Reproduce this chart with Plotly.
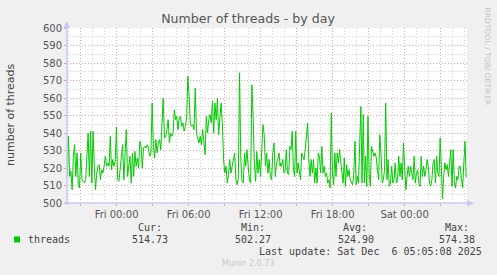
import pandas as pd
import plotly.graph_objects as go

# ---- data ----
threads_a = [515.2, 538.1, 515.2, 518.1, 507.6, 526.7, 533.3, 515.2, 528.6, 510.5,
             508.6, 528.6, 513.3, 512.4, 511.4, 513.3, 530.5, 540.0, 515.2, 541.0,
             511.4, 541.0, 521.0, 507.6, 517.1, 521.0, 521.9, 513.3, 519.0, 517.1,
             521.0, 526.7, 521.0, 522.9, 521.0, 538.1, 519.0, 524.8, 521.0, 523.8,
             543.4, 513.3, 512.4, 521.0, 526.7, 533.3, 513.3, 526.7, 541.9, 515.2,
             521.0, 526.7, 511.4, 528.6, 515.2, 529.5, 521.0, 525.7, 520.0, 535.2,
             532.4, 520.0, 531.4, 532.4, 531.4, 533.3, 531.4, 526.7, 528.6, 557.1,
             532.4, 525.7, 536.2, 528.6, 534.3, 536.2, 530.5, 541.9, 560.0, 537.1,
             538.1, 541.9, 547.6, 534.3, 540.0, 538.1, 540.0, 553.3, 547.6, 549.5,
             541.9, 548.6, 549.5, 543.8, 545.7, 541.0, 543.8, 548.6, 572.4, 561.0,
             545.7, 543.8, 544.8, 541.9, 565.7, 540.0, 537.1, 534.3, 538.1, 533.3,
             541.9, 534.3, 527.6, 549.5, 540.0, 547.6, 550.5, 545.7, 558.1, 540.0,
             557.1, 547.6, 560.0, 539.0, 549.5, 557.1, 545.7, 524.8, 517.1, 521.0,
             511.4, 516.2, 524.8, 517.1, 521.0, 524.8, 528.6, 513.3, 510.5, 514.3,
             574.4, 524.8, 512.4, 511.4, 528.6, 521.0, 530.5, 521.0, 513.3, 511.4,
             567.6, 549.5, 522.9, 512.4, 529.5, 517.1, 524.8, 515.2, 528.6, 544.8,
             539.0, 521.0, 528.6, 517.1, 524.8, 515.2, 513.3, 528.6, 534.3, 515.2,
             522.9, 524.8, 528.6, 521.0]
threads_b = [522.9, 521.0, 524.8, 517.1, 518.1, 530.5, 517.1, 516.2, 532.4, 530.5,
             541.0, 519.0, 515.2, 541.0, 517.1, 522.9, 517.1, 513.3, 528.6, 526.7,
             524.8, 530.5, 540.0, 545.7, 524.8, 515.2, 524.8, 517.1, 524.8, 511.4,
             520.0, 511.4, 528.6, 526.7, 517.1, 532.4, 517.1, 521.0, 515.2, 517.1,
             511.4, 513.3, 508.6, 551.4, 517.1, 510.5, 528.6, 515.2, 528.6, 522.9,
             530.5, 521.0, 517.1, 511.4, 525.7, 509.5, 521.9, 515.2, 519.0, 513.3,
             511.4, 510.5, 516.2, 535.2, 510.5, 515.2, 511.4, 528.6, 555.2, 511.4,
             550.5, 511.4, 526.7, 509.5, 549.5, 517.1, 509.5, 532.4, 528.6, 526.7,
             528.6, 525.7, 519.0, 513.3, 539.0, 528.6, 511.4, 513.3, 519.0, 557.1,
             513.3, 524.8, 509.5, 511.4, 521.0, 511.4, 513.3, 522.9, 511.4, 513.3,
             526.7, 515.2, 522.9, 513.3, 534.3, 516.2, 507.6, 515.2, 521.0, 515.2,
             521.0, 517.1, 513.3, 526.7, 511.4, 517.1, 519.0, 511.4, 509.5, 526.7,
             515.2, 521.0, 515.2, 519.0, 524.8, 521.0, 511.4, 509.5, 513.3, 522.9,
             524.8, 511.4, 526.7, 517.1, 515.2, 537.1, 517.1, 502.3, 515.2, 522.9,
             519.0, 521.9, 515.2, 521.0, 530.5, 509.5, 530.5, 511.4, 508.6, 515.2,
             513.3, 521.0, 521.0, 513.3, 508.6, 522.9, 535.2, 514.7]

seg_a_start, seg_a_end = "2025-12-04 19:53", "2025-12-05 13:38"
seg_b_start, seg_b_end = "2025-12-05 13:39", "2025-12-06 05:08"

x_range = ["2025-12-04 19:52", "2025-12-06 05:12"]
tick_times = pd.date_range("2025-12-04 21:00", "2025-12-06 03:00", freq="3h")
tick_labels = [t.strftime("%a %H:%M") if t.hour % 6 == 0 else "" for t in tick_times]

legend_name = "threads"
stat_heads = ["Cur:", "Min:", "Avg:", "Max:"]
stat_values = ["514.73", "502.27", "524.90", "574.38"]
last_update = "Last update: Sat Dec  6 05:05:08 2025"

times = list(pd.date_range(seg_a_start, seg_a_end, periods=len(threads_a))) + \
        list(pd.date_range(seg_b_start, seg_b_end, periods=len(threads_b)))
values = threads_a + threads_b

# ---- geometry helpers (pixel -> paper) ----
W, H = 497, 275
L, R, T, B = 67, 30, 28, 72
PW, PH = W - L - R, H - T - B


def px(x):
    return (x - L) / PW


def py(y):
    return (H - B - y) / PH


MAJOR = "#e6a0a0"
MINOR = "#cfcfcf"
AXIS = "#c8c8f4"
TXT = "#555555"
MONO = "DejaVu Sans Mono"

fig = go.Figure()
fig.add_trace(go.Scatter(x=times, y=values, mode="lines",
                         line=dict(color="#00cc00", width=1), hoverinfo="skip",
                         showlegend=False))

fig.update_layout(
    width=W, height=H, autosize=False,
    margin=dict(l=L, r=R, t=T, b=B, pad=0),
    paper_bgcolor="#f0f0f0", plot_bgcolor="#ffffff",
    font=dict(family="DejaVu Sans", size=10, color=TXT),
    title=dict(text="Number of threads - by day", x=(248) / W, xanchor="center",
               y=1 - 19 / H, yanchor="middle",
               font=dict(family="DejaVu Sans", size=12.6, color=TXT)),
    xaxis=dict(range=x_range, type="date", tickvals=list(tick_times), ticktext=tick_labels,
               showgrid=True, gridcolor=MAJOR, griddash="1px,2px", gridwidth=1,
               ticks="outside", ticklen=2, tickcolor=MAJOR, showline=False,
               zeroline=False, tickfont=dict(size=10, color=TXT),
               minor=dict(dtick=3600000, tick0="2025-12-05 00:00", showgrid=True,
                          gridcolor=MINOR, griddash="1px,2px", gridwidth=1)),
    yaxis=dict(range=[500, 600], dtick=10, tick0=500, showgrid=True, gridcolor=MAJOR,
               griddash="1px,2px", gridwidth=1, ticks="outside", ticklen=2,
               tickcolor=MAJOR, showline=False, zeroline=False,
               tickfont=dict(size=10, color=TXT),
               minor=dict(dtick=5, tick0=500, showgrid=True, gridcolor=MINOR,
                          griddash="1px,2px", gridwidth=1)),
)

shapes = []
# axes lines with arrows
shapes.append(dict(type="line", xref="paper", yref="paper", x0=0, x1=0,
                   y0=py(205), y1=py(24), line=dict(color=AXIS, width=1.5)))
shapes.append(dict(type="path", xref="paper", yref="paper",
                   path=f"M {px(63.5)} {py(28)} L {px(70)} {py(28)} L {px(66.8)} {py(21)} Z",
                   fillcolor=AXIS, line=dict(width=0)))
shapes.append(dict(type="line", xref="paper", yref="paper", x0=px(64), x1=px(470),
                   y0=0, y1=0, line=dict(color=AXIS, width=1.5)))
shapes.append(dict(type="path", xref="paper", yref="paper",
                   path=f"M {px(467)} {py(200)} L {px(467)} {py(206.5)} L {px(474)} {py(203.3)} Z",
                   fillcolor=AXIS, line=dict(width=0)))
# legend swatch
shapes.append(dict(type="rect", xref="paper", yref="paper", x0=px(14), x1=px(20),
                   y0=py(242.5), y1=py(236.5), fillcolor="#00cc00", line=dict(width=0)))
fig.update_layout(shapes=shapes)

ann = []
ann.append(dict(text="number of threads", x=px(10), y=py(115), xref="paper", yref="paper",
                textangle=-90, showarrow=False, xanchor="center", yanchor="middle",
                font=dict(family="DejaVu Sans", size=11, color="#444444")))
ann.append(dict(text="RRDTOOL / TOBI OETIKER", x=px(487.5), y=py(57), xref="paper",
                yref="paper", textangle=90, showarrow=False, xanchor="center",
                yanchor="middle", font=dict(family="DejaVu Sans", size=7.6, color="#c4c4c4")))
ann.append(dict(text=legend_name, x=px(25.5), y=py(239.5), xref="paper", yref="paper",
                showarrow=False, xanchor="left", yanchor="middle",
                font=dict(family=MONO, size=10, color="#444444")))
head_x = [163.5, 266.5, 368.5, 470.5]
val_x = [169.5, 273, 375.5, 477]
for hx, vx, h, v in zip(head_x, val_x, stat_heads, stat_values):
    ann.append(dict(text=h, x=px(hx), y=py(227.5), xref="paper", yref="paper",
                    showarrow=False, xanchor="right", yanchor="middle",
                    font=dict(family=MONO, size=10, color="#444444")))
    ann.append(dict(text=v, x=px(vx), y=py(239.5), xref="paper", yref="paper",
                    showarrow=False, xanchor="right", yanchor="middle",
                    font=dict(family=MONO, size=10, color="#444444")))
ann.append(dict(text=last_update.replace("  ", "&nbsp; "), x=px(483.5), y=py(251.7),
                xref="paper", yref="paper", showarrow=False, xanchor="right",
                yanchor="middle", font=dict(family=MONO, size=10, color="#444444")))
ann.append(dict(text="Munin 2.0.73", x=px(248), y=py(263.5), xref="paper", yref="paper",
                showarrow=False, xanchor="center", yanchor="middle",
                font=dict(family="DejaVu Sans", size=8, color="#c8c8c8")))
fig.update_layout(annotations=ann)

fig.write_html("out.html")
